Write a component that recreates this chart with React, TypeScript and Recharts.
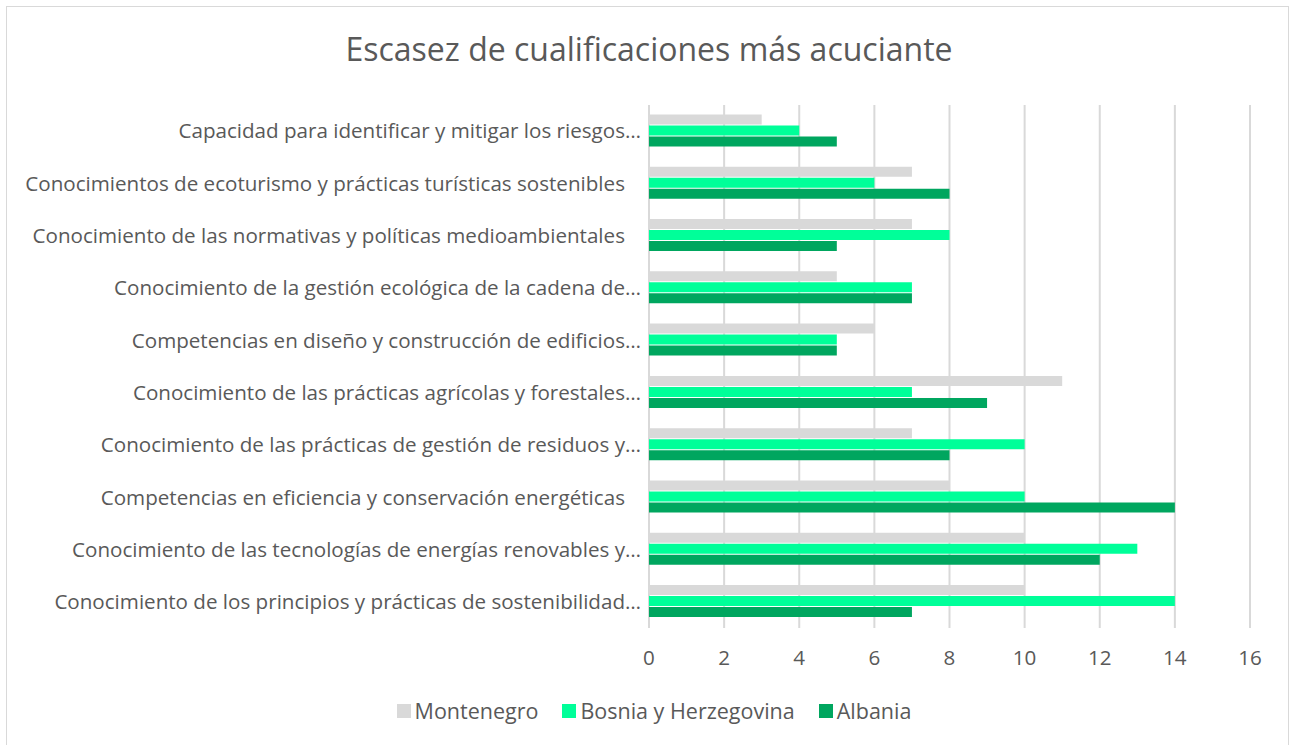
import { BarChart, Bar, XAxis, YAxis, CartesianGrid, Legend } from 'recharts';

// some labels carry trailing spaces in the source workbook
const categories = [
  'Capacidad para identificar y mitigar los riesgos…',
  'Conocimientos de ecoturismo y prácticas turísticas sostenibles\u00a0\u00a0\u00a0',
  'Conocimiento de las normativas y políticas medioambientales\u00a0\u00a0\u00a0',
  'Conocimiento de la gestión ecológica de la cadena de…',
  'Competencias en diseño y construcción de edificios…',
  'Conocimiento de las prácticas agrícolas y forestales…',
  'Conocimiento de las prácticas de gestión de residuos y…',
  'Competencias en eficiencia y conservación energéticas\u00a0\u00a0\u00a0',
  'Conocimiento de las tecnologías de energías renovables y…',
  'Conocimiento de los principios y prácticas de sostenibilidad…',
];

const montenegro = [3, 7, 7, 5, 6, 11, 7, 8, 10, 10];
const bosnia = [4, 6, 8, 7, 5, 7, 10, 10, 13, 14];
const albania = [5, 8, 5, 7, 5, 9, 8, 14, 12, 7];

const seriesNames = ['Montenegro', 'Bosnia y Herzegovina', 'Albania'];
const seriesColors = ['#d9d9d9', '#00ff99', '#00a65f'];

const xTicks = [0, 2, 4, 6, 8, 10, 12, 14, 16];

const data = categories.map((name, i) => ({
  name,
  [seriesNames[0]]: montenegro[i],
  [seriesNames[1]]: bosnia[i],
  [seriesNames[2]]: albania[i],
}));

const FONT = '"Open Sans", sans-serif';
const TXT = '#595959';
const FS = 20.6;

// legend in the same order as the original (recharts reverses it in vertical layout)
const renderLegend = () => (
  <div style={{ display: 'flex', justifyContent: 'center', fontFamily: FONT, fontSize: 21.5, color: TXT }}>
    {seriesNames.map((n, i) => (
      <div key={n} style={{ display: 'flex', alignItems: 'center', margin: '0 12px' }}>
        <span style={{ width: 14, height: 14, background: seriesColors[i], display: 'inline-block', marginRight: 4 }} />
        <span>{n}</span>
      </div>
    ))}
  </div>
);

const App = () => {
  return (
    <div style={{ position: 'absolute', left: 0, top: 0, width: 1292, height: 745, background: '#fff', overflow: 'hidden' }}>
      <div
        style={{
          position: 'absolute',
          left: 6,
          top: 6,
          width: 1283,
          height: 760,
          border: '1px solid #d9d9d9',
          boxSizing: 'border-box',
        }}
      />
      <div
        style={{
          position: 'absolute',
          left: 0,
          top: 27,
          width: 1298,
          textAlign: 'center',
          fontFamily: FONT,
          fontSize: 32,
          color: TXT,
        }}
      >
        Escasez de cualificaciones más acuciante
      </div>
      <div style={{ position: 'absolute', left: 0, top: 0 }}>
        <BarChart
          width={1292}
          height={745}
          data={data}
          layout="vertical"
          margin={{ top: 105, right: 42, bottom: 58, left: 0 }}
          barCategoryGap="18%"
          barGap={1}
        >
          <CartesianGrid horizontal={false} stroke="#d9d9d9" strokeWidth={2} />
          <XAxis
            type="number"
            domain={[0, 16]}
            ticks={xTicks}
            axisLine={false}
            tickLine={false}
            height={30}
            tick={{ fill: TXT, fontSize: FS, fontFamily: FONT, dy: 14 }}
          />
          <YAxis
            type="category"
            dataKey="name"
            width={649}
            axisLine={false}
            tickLine={false}
            interval={0}
            tick={{ fill: TXT, fontSize: FS, fontFamily: FONT, dx: 0 }}
          />
          <Legend
            verticalAlign="bottom"
            content={renderLegend}
            wrapperStyle={{ bottom: 20, left: 0, width: 1308 }}
          />
          {seriesNames.map((n, i) => (
            <Bar key={n} dataKey={n} fill={seriesColors[i]} isAnimationActive={false} />
          ))}
        </BarChart>
      </div>
    </div>
  );
};

export default App;
